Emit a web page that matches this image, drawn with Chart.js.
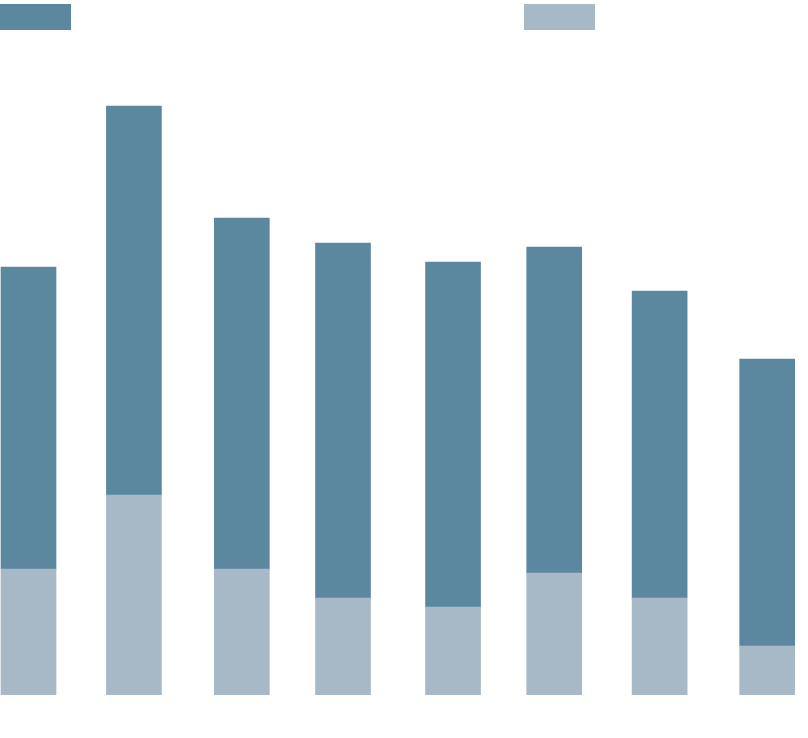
<!DOCTYPE html>
<html>
<head>
<meta charset="utf-8">
<script src="https://cdn.jsdelivr.net/npm/chart.js@4"></script>
<style>
  html, body { margin: 0; padding: 0; background: #fff; }
  #wrap { width: 808px; height: 738px; }
</style>
</head>
<body>
<div id="wrap"><canvas id="chart"></canvas></div>
<script>
// days since first period (spacing is uneven in the picture)
const dayIndex = [0, 29.7, 60.1, 88.6, 119.6, 148.1, 177.8, 208.1];
const lowerValues = [25.2, 40, 25.2, 19.4, 17.6, 24.4, 19.4, 9.8];
const upperValues = [60.4, 77.8, 70.2, 71, 69, 65.2, 61.4, 57.4];
const darkColor = 'rgb(91,136,159)';
const lightColor = 'rgb(167,184,199)';

function toPoints(vals) {
  return vals.map((v, i) => ({ x: dayIndex[i], y: v }));
}

// legend swatches only, the reference shows no label text
const swatchLegend = {
  id: 'swatchLegend',
  afterDraw(chart) {
    const ctx = chart.ctx;
    const spots = [0, 524];
    chart.data.datasets.forEach((ds, i) => {
      ctx.save();
      ctx.fillStyle = ds.backgroundColor;
      ctx.fillRect(spots[i], 4, 71, 26);
      ctx.restore();
    });
  }
};

new Chart(document.getElementById('chart'), {
  type: 'bar',
  data: {
    datasets: [{
      label: '',
      data: toPoints(upperValues),
      backgroundColor: darkColor,
      order: 2
    }, {
      label: '',
      data: toPoints(lowerValues),
      backgroundColor: lightColor,
      order: 1
    }]
  },
  options: {
    responsive: true,
    maintainAspectRatio: false,
    animation: false,
    layout: { padding: { top: 45, bottom: 43, left: 0, right: 0 } },
    datasets: { bar: { barThickness: 55 } },
    plugins: {
      legend: { display: false },
      tooltip: { enabled: false }
    },
    scales: {
      x: { type: 'linear', stacked: true, display: false, offset: false, min: -8.03, max: 219.6 },
      y: { stacked: true, display: false, min: 0, max: 130 }
    }
  },
  plugins: [swatchLegend]
});
</script>
</body>
</html>
